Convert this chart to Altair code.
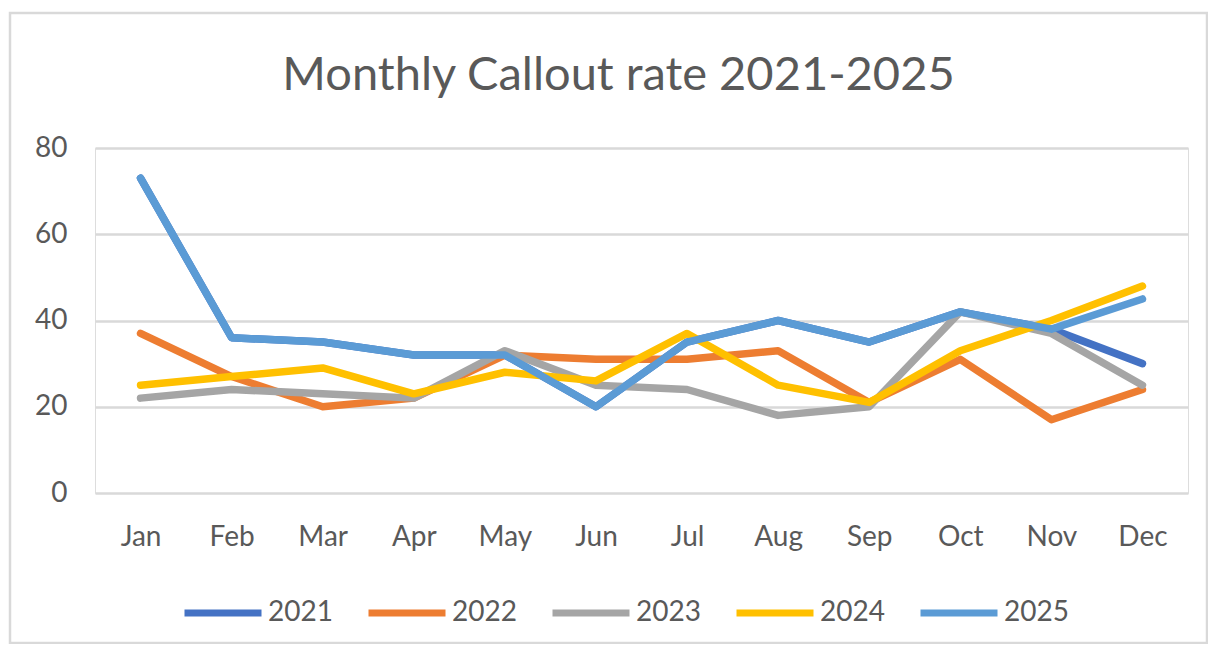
import altair as alt
import pandas as pd

months = ["Jan", "Feb", "Mar", "Apr", "May", "Jun", "Jul", "Aug", "Sep", "Oct", "Nov", "Dec"]
years = ["2021", "2022", "2023", "2024", "2025"]
v2021 = [73, 36, 35, 32, 32, 20, 35, 40, 35, 42, 38, 30]
v2022 = [37, 27, 20, 22, 32, 31, 31, 33, 21, 31, 17, 24]
v2023 = [22, 24, 23, 22, 33, 25, 24, 18, 20, 42, 37, 25]
v2024 = [25, 27, 29, 23, 28, 26, 37, 25, 21, 33, 40, 48]
v2025 = [73, 36, 35, 32, 32, 20, 35, 40, 35, 42, 38, 45]
colors = ["#4472C4", "#ED7D31", "#A5A5A5", "#FFC000", "#5B9BD5"]

series = [v2021, v2022, v2023, v2024, v2025]
rows = []
for y, vals in zip(years, series):
    for m, v in zip(months, vals):
        rows.append({"Month": m, "Year": y, "Value": v})
df = pd.DataFrame(rows)

W, H = 1093, 345
FONT = "Lato"
GREY = "#595959"

lines = alt.Chart(df).mark_line(strokeWidth=7.5, strokeCap="round", strokeJoin="round").encode(
    x=alt.X("Month:N", sort=months, scale=alt.Scale(type="point", padding=0.5),
            axis=alt.Axis(title=None, labelAngle=0, domain=False, ticks=False,
                          labelPadding=30, labelFontSize=28, labelColor=GREY, labelFont=FONT)),
    y=alt.Y("Value:Q", scale=alt.Scale(domain=[0, 80]),
            axis=alt.Axis(title=None, values=[0, 20, 40, 60, 80], domain=False, ticks=False,
                          labelPadding=28, labelFontSize=28, labelColor=GREY, labelFont=FONT,
                          gridColor="#D9D9D9", gridWidth=2.5)),
    color=alt.Color("Year:N", sort=years, scale=alt.Scale(domain=years, range=colors),
                    legend=alt.Legend(title=None, orient="none", direction="horizontal",
                                      legendX=86, legendY=423, symbolType="stroke",
                                      symbolSize=5929, symbolStrokeWidth=7,
                                      labelFontSize=28, labelColor=GREY, labelFont=FONT,
                                      labelOffset=3, columnPadding=21)),
    order=alt.Order("Year:N"),
)

border = alt.Chart(pd.DataFrame({"a": [0]})).mark_rect(
    fill=None, stroke="#D9D9D9", strokeWidth=2.5, clip=False
).encode(
    x=alt.value(-85), x2=alt.value(W + 19), y=alt.value(-135), y2=alt.value(H + 150)
)

chart = alt.layer(border, lines).properties(
    width=W, height=H,
    title=alt.TitleParams("Monthly Callout rate 2021-2025", fontSize=47, font=FONT,
                          color=GREY, fontWeight="normal", anchor="middle", dx=-23, offset=-88),
    autosize=alt.AutoSizeParams(type="none"),
    padding={"left": 87, "top": 140, "right": 20, "bottom": 151},
).configure_view(stroke=None).configure(background="white")

chart.save("out.html", embed_options={"renderer": "svg", "actions": False})
